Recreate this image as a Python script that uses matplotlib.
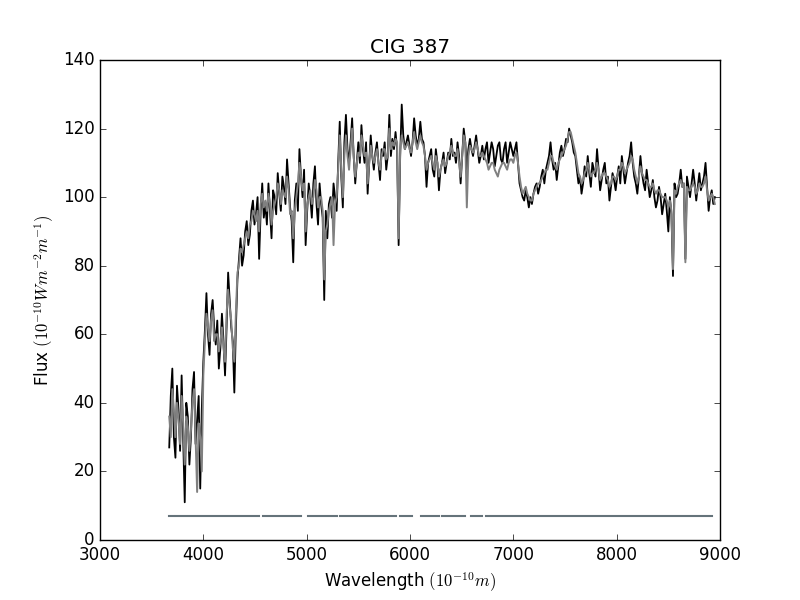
import matplotlib
matplotlib.use('Agg')
import matplotlib.pyplot as plt

# wavelength samples (Angstrom)
wave = [3670, 3685, 3700, 3715, 3730, 3745, 3760, 3775, 3790, 3805, 3820, 3835, 3850, 3865, 3880, 3895, 3910, 3925, 3940, 3955,
        3970, 3985, 4000, 4015, 4030, 4045, 4060, 4075, 4090, 4105, 4120, 4135, 4150, 4165, 4180, 4195, 4210, 4225, 4240, 4255,
        4270, 4285, 4300, 4315, 4330, 4345, 4360, 4375, 4390, 4405, 4420, 4435, 4450, 4465, 4480, 4495, 4510, 4525, 4540, 4555,
        4570, 4585, 4600, 4615, 4630, 4645, 4660, 4675, 4690, 4705, 4720, 4735, 4750, 4765, 4780, 4795, 4810, 4825, 4840, 4855,
        4870, 4885, 4900, 4915, 4930, 4945, 4960, 4975, 4990, 5005, 5020, 5035, 5050, 5065, 5080, 5095, 5110, 5125, 5140, 5155,
        5170, 5185, 5200, 5215, 5230, 5245, 5260, 5275, 5290, 5305, 5320, 5335, 5350, 5365, 5380, 5395, 5410, 5425, 5440, 5455,
        5470, 5485, 5500, 5515, 5530, 5545, 5560, 5575, 5590, 5605, 5620, 5635, 5650, 5665, 5680, 5695, 5710, 5725, 5740, 5755,
        5770, 5785, 5800, 5815, 5830, 5845, 5860, 5875, 5890, 5905, 5920, 5935, 5950, 5965, 5980, 5995, 6010, 6025, 6040, 6055,
        6070, 6085, 6100, 6115, 6130, 6145, 6160, 6175, 6190, 6205, 6220, 6235, 6250, 6265, 6280, 6295, 6310, 6325, 6340, 6355,
        6370, 6385, 6400, 6415, 6430, 6445, 6460, 6475, 6490, 6505, 6520, 6535, 6550, 6565, 6580, 6595, 6610, 6625, 6640, 6655,
        6670, 6685, 6700, 6715, 6730, 6745, 6760, 6775, 6790, 6805, 6820, 6835, 6850, 6865, 6880, 6895, 6910, 6925, 6940, 6955,
        6970, 6985, 7000, 7015, 7030, 7045, 7060, 7075, 7090, 7105, 7120, 7135, 7150, 7165, 7180, 7195, 7210, 7225, 7240, 7255,
        7270, 7285, 7300, 7315, 7330, 7345, 7360, 7375, 7390, 7405, 7420, 7435, 7450, 7465, 7480, 7495, 7510, 7525, 7540, 7555,
        7570, 7585, 7600, 7615, 7630, 7645, 7660, 7675, 7690, 7705, 7720, 7735, 7750, 7765, 7780, 7795, 7810, 7825, 7840, 7855,
        7870, 7885, 7900, 7915, 7930, 7945, 7960, 7975, 7990, 8005, 8020, 8035, 8050, 8065, 8080, 8095, 8110, 8125, 8140, 8155,
        8170, 8185, 8200, 8215, 8230, 8245, 8260, 8275, 8290, 8305, 8320, 8335, 8350, 8365, 8380, 8395, 8410, 8425, 8440, 8455,
        8470, 8485, 8500, 8515, 8530, 8545, 8560, 8575, 8590, 8605, 8620, 8635, 8650, 8665, 8680, 8695, 8710, 8725, 8740, 8755,
        8770, 8785, 8800, 8815, 8830, 8845, 8860, 8875, 8890, 8905, 8920, 8935, 8950]

# observed spectrum (black)
flux_obs = [27, 42, 50, 30, 24, 45, 38, 26, 48, 30, 11, 40, 36, 22, 30, 44, 49, 28, 35, 42, 15, 38, 52,
            61, 72, 60, 54, 66, 70, 62, 57, 64, 50, 56, 66, 58, 48, 62, 78, 70, 62, 58, 43,
            62, 76, 82, 88, 80, 83, 90, 93, 86, 89, 96, 99, 92, 95, 100, 82, 96, 104, 94, 98,
            92, 104, 96, 88, 102, 100, 95, 107, 101, 96, 106, 103, 98, 111, 104, 97, 93, 81, 99, 104,
            96, 114, 106, 100, 108, 86, 96, 104, 100, 94, 104, 109, 98, 92, 104, 98, 94, 70, 96, 88,
            98, 100, 94, 104, 100, 96, 110, 122, 106, 97, 116, 124, 114, 110, 116, 123, 112, 104, 110, 116,
            110, 121, 114, 110, 116, 101, 110, 118, 112, 108, 113, 116, 110, 105, 114, 112, 116, 108, 112, 124,
            112, 117, 114, 119, 114, 86, 112, 127, 118, 114, 116, 118, 115, 112, 116, 123, 118, 115, 117, 122,
            117, 116, 112, 103, 110, 112, 114, 108, 106, 114, 110, 102, 108, 110, 113, 107, 110, 113, 111, 117,
            112, 113, 110, 116, 112, 104, 112, 120, 116, 108, 114, 117, 114, 112, 115, 118, 114, 110, 112, 115,
            111, 114, 116, 110, 113, 116, 114, 109, 112, 115, 116, 111, 110, 114, 116, 110, 113, 116, 114, 112,
            114, 116, 110, 104, 102, 100, 99, 102, 100, 97, 100, 98, 101, 103, 104, 101, 103, 106, 108, 104,
            108, 110, 112, 116, 111, 108, 110, 105, 109, 113, 115, 112, 114, 117, 116, 120, 118, 116, 113, 112,
            108, 104, 106, 101, 104, 109, 106, 112, 107, 103, 110, 108, 106, 114, 108, 102, 105, 108, 110, 104,
            106, 99, 103, 107, 105, 102, 106, 109, 104, 112, 108, 104, 107, 110, 112, 116, 110, 106, 104, 101,
            106, 112, 107, 104, 102, 108, 104, 100, 102, 105, 100, 97, 99, 103, 100, 95, 98, 101, 96, 90,
            100, 95, 77, 104, 100, 101, 104, 108, 103, 104, 82, 106, 103, 100, 104, 108, 104, 99, 103, 107,
            102, 104, 106, 110, 103, 96, 100, 102, 98, 100]

# model spectrum (grey)
flux_fit = [36, 30, 44, 38, 30, 40, 35, 28, 42, 34, 22, 36, 33, 26, 32, 40, 44, 30, 14, 34, 30, 20, 48,
            58, 66, 62, 58, 64, 67, 58, 60, 60, 55, 58, 62, 56, 52, 66, 73, 68, 64, 56, 52,
            66, 78, 80, 85, 84, 86, 88, 90, 88, 92, 93, 96, 95, 93, 96, 90, 98, 101, 97, 99,
            96, 101, 98, 92, 96, 98, 100, 104, 102, 98, 102, 101, 100, 106, 102, 95, 96, 88, 96, 100,
            104, 110, 106, 102, 104, 90, 98, 100, 102, 98, 100, 105, 102, 97, 100, 100, 96, 76, 90, 92,
            96, 98, 100, 86, 98, 100, 108, 118, 108, 100, 112, 118, 112, 108, 114, 120, 112, 106, 110, 113,
            112, 118, 115, 112, 113, 104, 110, 115, 112, 110, 112, 114, 110, 108, 112, 114, 114, 111, 112, 120,
            114, 116, 115, 117, 116, 88, 114, 118, 116, 114, 115, 116, 114, 113, 116, 119, 116, 114, 116, 118,
            116, 115, 112, 108, 110, 111, 112, 110, 108, 112, 110, 106, 108, 110, 111, 109, 110, 112, 113, 115,
            113, 112, 112, 114, 110, 106, 112, 118, 116, 97, 112, 115, 114, 113, 114, 116, 114, 112, 112, 113,
            112, 111, 110, 108, 109, 110, 110, 108, 107, 106, 108, 109, 110, 110, 109, 108, 110, 111, 111, 110,
            112, 113, 110, 106, 103, 101, 102, 103, 101, 100, 99, 99, 101, 102, 103, 104, 104, 105, 106, 107,
            108, 108, 110, 112, 112, 110, 109, 108, 110, 111, 112, 113, 114, 115, 117, 119, 119, 117, 115, 113,
            110, 107, 106, 104, 105, 107, 108, 110, 108, 106, 107, 107, 108, 110, 108, 105, 106, 107, 107, 106,
            105, 103, 104, 106, 106, 105, 106, 108, 108, 110, 109, 107, 108, 109, 110, 112, 111, 108, 106, 104,
            106, 109, 107, 106, 105, 105, 104, 103, 103, 104, 102, 101, 102, 102, 101, 100, 100, 100, 99, 97,
            99, 96, 79, 102, 101, 103, 104, 105, 103, 104, 81, 103, 102, 102, 103, 104, 103, 101, 102, 104,
            103, 103, 104, 106, 102, 99, 100, 101, 100, 98]

# fitted-region mask segments drawn at the bottom
mask_start = [3667, 3733, 4577, 4863, 5012, 5323, 5903, 6110, 6310, 6590, 6735]
mask_end = [3712, 4535, 4852, 4945, 5292, 5868, 6024, 6277, 6528, 6695, 8927]
mask_level = 7

assert len(wave) == len(flux_obs) == len(flux_fit)

plt.style.use('classic')
fig, ax = plt.subplots(figsize=(8, 6), dpi=100)

ax.plot(wave, flux_obs, '-', color='black', lw=1.3)
ax.plot(wave, flux_fit, '-', color='grey', lw=1.4)

for s, e in zip(mask_start, mask_end):
    ax.plot([s, e], [mask_level, mask_level], '-', color='#65737a', lw=1.5)

ax.set_xlim(3000, 9000)
ax.set_ylim(0, 140)
ax.set_title('CIG 387')
ax.set_xlabel(r'Wavelength $(10^{-10} m)$')
ax.set_ylabel(r'Flux $(10^{-10} W m^{-2} m^{-1})$')

fig.savefig('out.png', dpi=100)
